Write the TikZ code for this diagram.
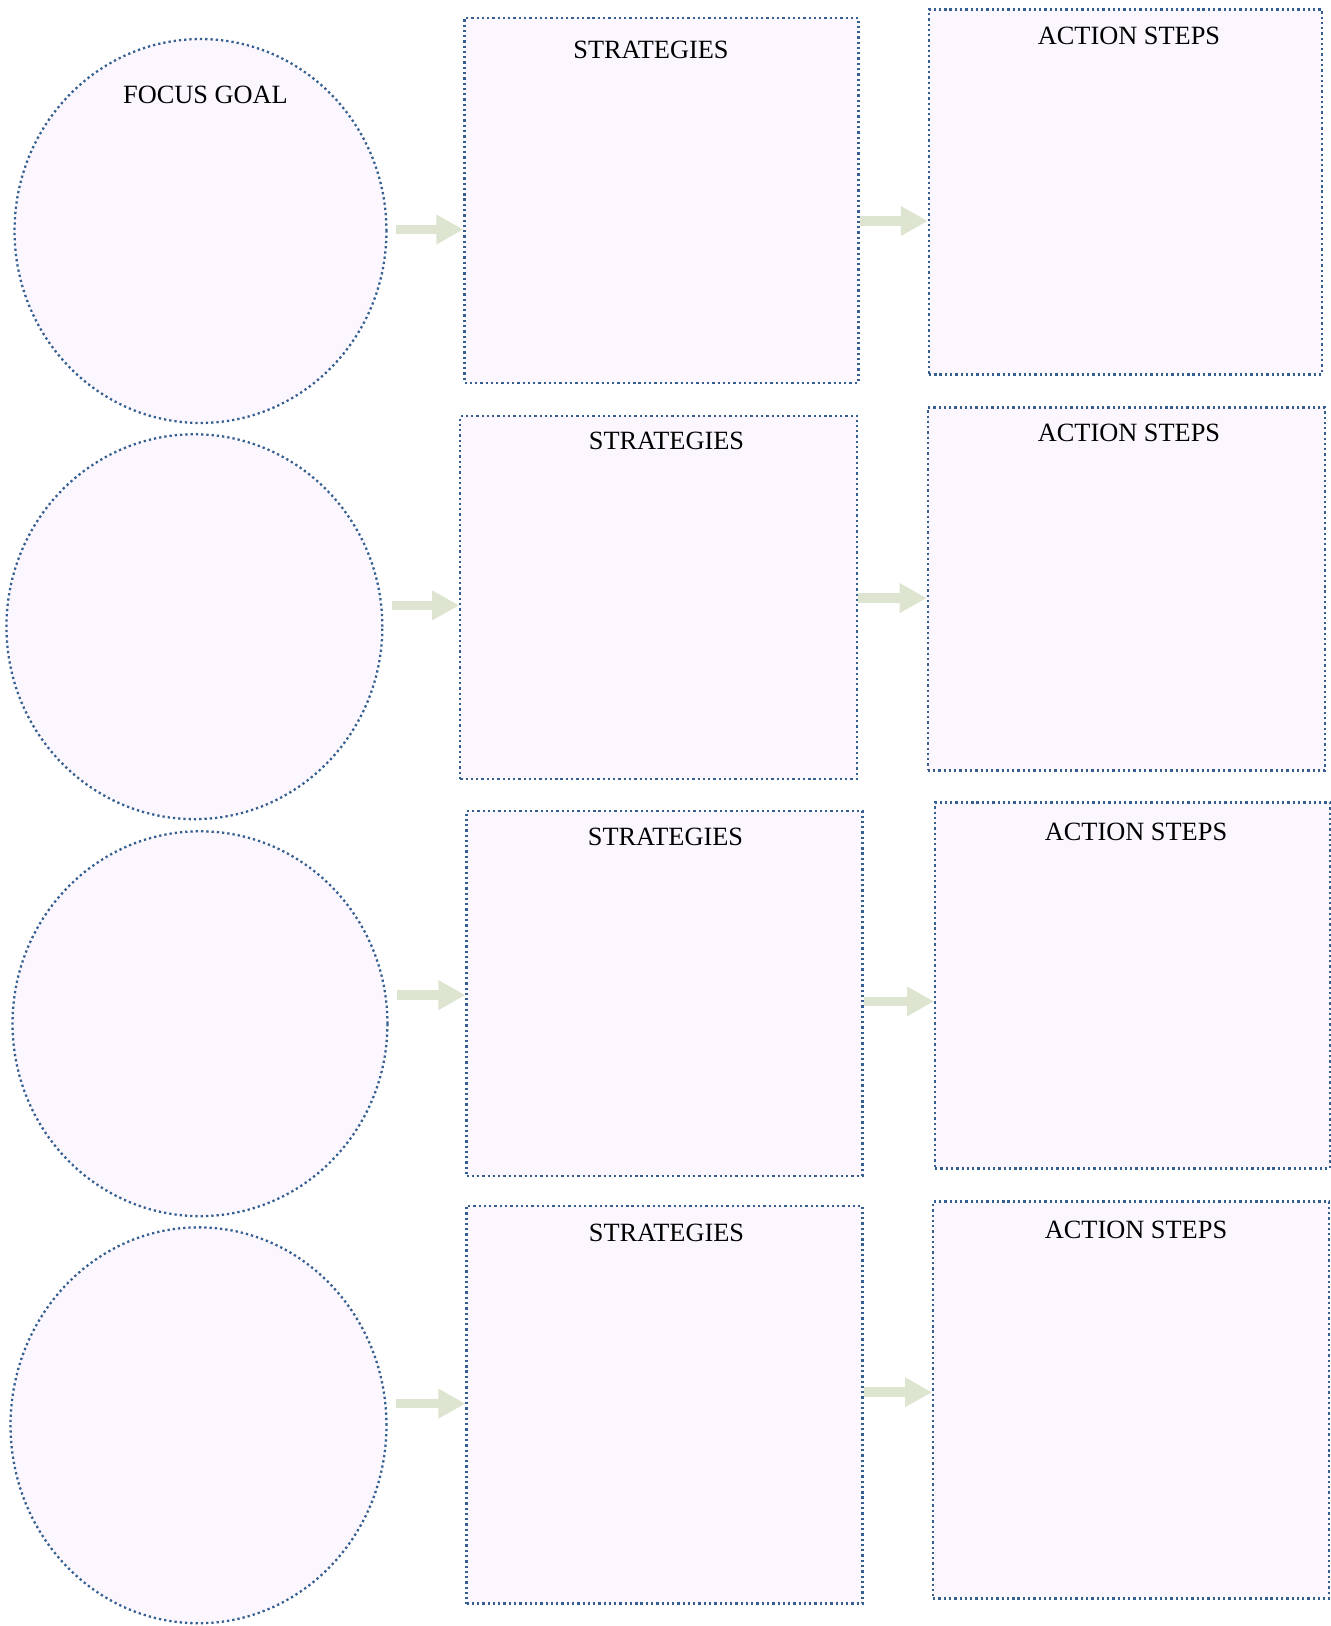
\documentclass[tikz,border=0pt]{standalone}
\usepackage{fontspec}
\setmainfont{Liberation Serif}
\usepackage{tikz}
\usetikzlibrary{arrows.meta, calc, positioning, shapes.geometric}
\usepackage{xcolor}
\definecolor{DotBlue}{RGB}{54,95,145}
\definecolor{PaleLilac}{RGB}{252,247,254}
\definecolor{SageArrow}{RGB}{221,228,207}
\tikzset{
  dotline/.style={draw=DotBlue,line width=1.3pt,dash pattern=on 1.3pt off 1.7pt},
  goalbox/.style={ellipse,dotline,fill=PaleLilac,inner sep=0pt},
  planbox/.style={rectangle,dotline,fill=PaleLilac,inner sep=0pt,anchor=north west},
  headtext/.style={font=\fontsize{15}{18}\selectfont,inner sep=0pt},
  flowarrow/.style={-{Triangle[length=0.54cm,width=0.56cm]},line width=0.19cm,color=SageArrow}
}

\begin{document}
\begin{tikzpicture}[x=0.02cm,y=-0.02cm]
  \useasboundingbox (0,0) rectangle (1330,1626);
  \node[goalbox,minimum width=7.44cm,minimum height=7.68cm] (g1) at (200.5,231) {};
  \node[goalbox,minimum width=7.52cm,minimum height=7.70cm] (g2) at (194.4,626.7) {};
  \node[goalbox,minimum width=7.50cm,minimum height=7.70cm] (g3) at (200,1023.7) {};
  \node[goalbox,minimum width=7.52cm,minimum height=7.92cm] (g4) at (198.5,1425.3) {};
  \node[planbox,minimum width=7.88cm,minimum height=7.30cm] (s1) at (463.4,16.6) {};
  \node[planbox,minimum width=7.94cm,minimum height=7.26cm] (s2) at (459.2,414.6) {};
  \node[planbox,minimum width=7.92cm,minimum height=7.30cm] (s3) at (465.4,809.6) {};
  \node[planbox,minimum width=7.92cm,minimum height=7.96cm] (s4) at (465.4,1204.5) {};
  \node[planbox,minimum width=7.86cm,minimum height=7.30cm] (a1) at (927.8,8.3) {};
  \node[planbox,minimum width=7.94cm,minimum height=7.26cm] (a2) at (926.7,406.3) {};
  \node[planbox,minimum width=7.90cm,minimum height=7.32cm] (a3) at (934,801.3) {};
  \node[planbox,minimum width=7.92cm,minimum height=7.94cm] (a4) at (932,1200.4) {};
  \node[headtext] (g1t) at (205.5,95.2) {FOCUS GOAL};
  \node[headtext] (s1t) at (651,49.8) {STRATEGIES};
  \node[headtext] (s2t) at (666.5,440.6) {STRATEGIES};
  \node[headtext] (s3t) at (665.5,836.5) {STRATEGIES};
  \node[headtext] (s4t) at (666.5,1232.5) {STRATEGIES};
  \node[headtext] (a1t) at (1129,36) {ACTION STEPS};
  \node[headtext] (a2t) at (1129,433.3) {ACTION STEPS};
  \node[headtext] (a3t) at (1136,831.4) {ACTION STEPS};
  \node[headtext] (a4t) at (1136,1229.4) {ACTION STEPS};
  \foreach \i/\ya/\yb in {1/229.5/221,2/605.4/598.1,3/995.1/1001.4,4/1403.6/1392.2}{
    \draw[flowarrow] ($(g\i.east|-0,\ya)+(8,0)$) -- (s\i.west|-0,\ya);
    \draw[flowarrow] (s\i.east|-0,\yb) -- (a\i.west|-0,\yb);
  }
\end{tikzpicture}
\end{document}
